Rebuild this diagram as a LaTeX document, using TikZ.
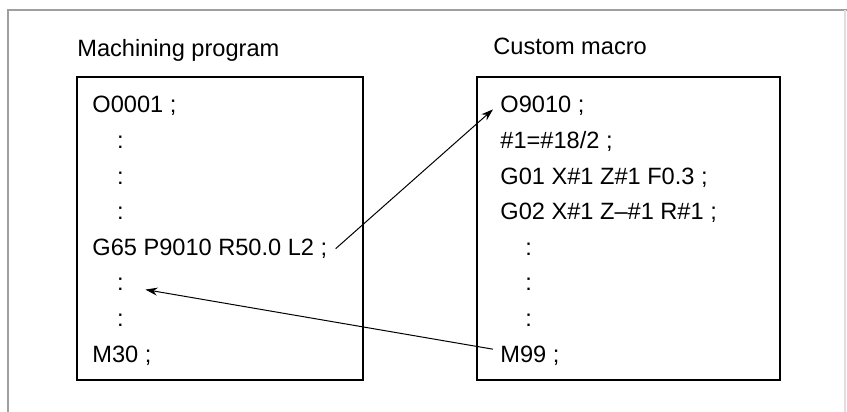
\documentclass[tikz,border=0pt]{standalone}
\usepackage{fontspec}
\setmainfont{Liberation Sans}
\usetikzlibrary{arrows.meta}

\begin{document}
\begin{tikzpicture}[
        x=0.5pt, y=0.5pt,
        every node/.style={font=\fontsize{11.8pt}{14pt}\selectfont, inner sep=0pt, anchor=base west},
        listing/.style={draw, line width=1.2pt},
        frame/.style={draw=gray!75, line width=0.8pt},
        arrow/.style={-{Stealth[length=6pt, width=4pt]}, line width=0.5pt}
    ]
    \useasboundingbox (0,0) rectangle (847,412);
%
    \draw[frame] (8,0) -- (8,402) -- (847,402);
    \draw[frame, draw=gray!25] (845,402) -- (845,0);
%
    \node (prog) at (77,355) {Machining program};
    \node (macro) at (493,357.5) {Custom macro};
    \draw[listing] (77,32) rectangle (363,335);
    \draw[listing] (477,32) rectangle (780,335);
%
    \node (p1) at (92,299) {O0001 ;};
    \node (p2) at (116.7,263.4) {:};
    \node (p3) at (116.7,227.8) {:};
    \node (p4) at (116.7,192.2) {:};
    \node (p5) at (92,156.6) {G65 P9010 R50.0 L2 ;};
    \node (p6) at (116.7,121) {:};
    \node (p7) at (116.7,85.4) {:};
    \node (p8) at (92,49.8) {M30 ;};
%
    \node (m1) at (500,299) {O9010 ;};
    \node (m2) at (500,263.4) {\#1=\#18/2 ;};
    \node (m3) at (500,227.8) {G01 X\#1 Z\#1 F0.3 ;};
    \node (m4) at (500,192.2) {G02 X\#1 Z–\#1 R\#1 ;};
    \node (m5) at (525,156.6) {:};
    \node (m6) at (525,121) {:};
    \node (m7) at (525,85.4) {:};
    \node (m8) at (500,49.8) {M99 ;};
%
    \draw[arrow] ([xshift=4pt]p5.east) -- ([xshift=-3.5pt, yshift=1.8pt]m1.base west);
    \draw[arrow] ([xshift=-3.5pt, yshift=6.5pt]m8.base west) -- ([xshift=10.7pt, yshift=0.7pt]p6.base east);
%
\end{tikzpicture}
\end{document}
